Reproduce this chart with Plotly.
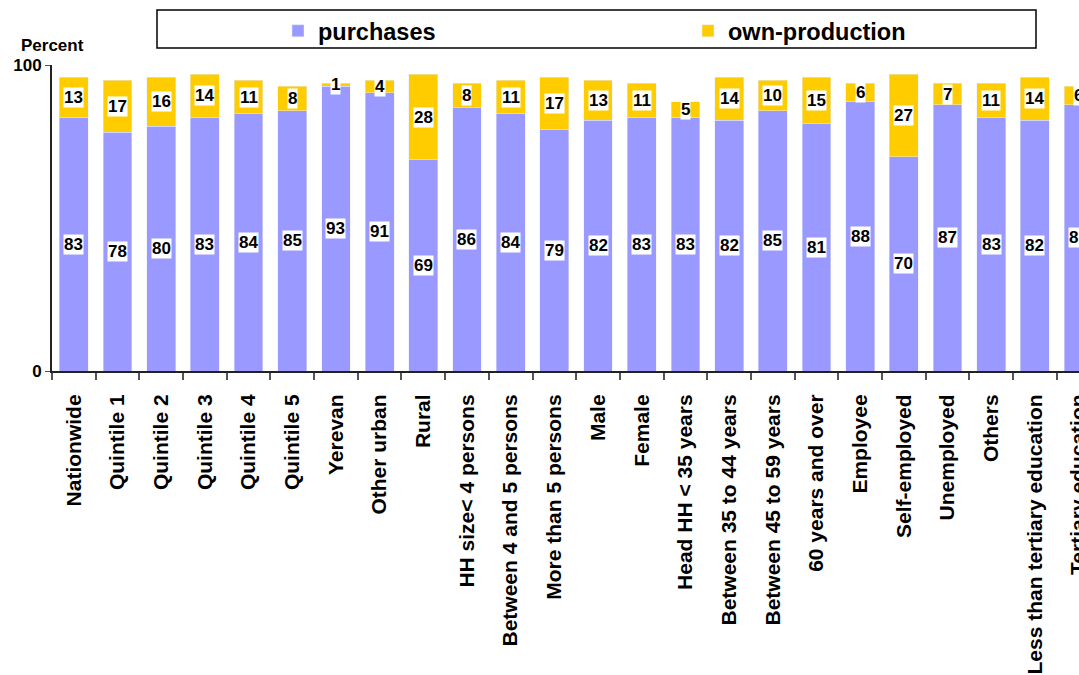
import plotly.graph_objects as go

categories = ["Nationwide", "Quintile 1", "Quintile 2", "Quintile 3", "Quintile 4", "Quintile 5",
              "Yerevan", "Other urban", "Rural", "HH size< 4 persons", "Between 4 and 5 persons",
              "More than 5 persons", "Male", "Female", "Head HH < 35 years", "Between 35 to 44 years",
              "Between 45 to 59 years", "60 years and over", "Employee", "Self-employed", "Unemployed",
              "Others", "Less than tertiary education", "Tertiary education"]
purchases = [83, 78, 80, 83, 84, 85, 93, 91, 69, 86, 84, 79, 82, 83, 83, 82, 85, 81, 88, 70, 87, 83, 82, 87]
own_production = [13, 17, 16, 14, 11, 8, 1, 4, 28, 8, 11, 17, 13, 11, 5, 14, 10, 15, 6, 27, 7, 11, 14, 6]
y_ticks = [0, 100]

W, H = 1079, 675
ML = 52
MT = 65
PLOT_RIGHT = 1079
PLOT_BOTTOM = 371
MR = W - PLOT_RIGHT
MB = H - PLOT_BOTTOM
PW = PLOT_RIGHT - ML
PH = PLOT_BOTTOM - MT
FAM = "Liberation Sans, Arial"

def px_x(p):
    return (p - ML) / PW

def px_y(p):
    return (PLOT_BOTTOM - p) / PH

fig = go.Figure()
fig.add_trace(go.Bar(x=categories, y=purchases, name="purchases", marker_color="#9999FF",
                     width=0.66, hoverinfo="skip"))
fig.add_trace(go.Bar(x=categories, y=own_production, name="own-production", marker_color="#FFCC00",
                     width=0.66, hoverinfo="skip"))

annotations = []
for c, p, o in zip(categories, purchases, own_production):
    annotations.append(dict(x=c, y=p / 2, xref="x", yref="y", text=f"<b>{p}</b>", showarrow=False,
                            font=dict(size=17, color="black", family=FAM),
                            bgcolor="white", borderpad=0))
    annotations.append(dict(x=c, y=p + o / 2, xref="x", yref="y", text=f"<b>{o}</b>", showarrow=False,
                            font=dict(size=17, color="black", family=FAM),
                            bgcolor="white", borderpad=0))
annotations.append(dict(x=px_x(19), y=px_y(45), xref="paper", yref="paper", xanchor="left", yanchor="middle",
                        text="<b>Percent</b>", showarrow=False,
                        font=dict(size=17, color="black", family=FAM)))

fig.update_layout(
    width=W, height=H,
    margin=dict(l=ML, r=MR, t=MT, b=MB, pad=0, autoexpand=False),
    barmode="stack",
    plot_bgcolor="white", paper_bgcolor="white",
    font=dict(family=FAM, color="black"),
    showlegend=True,
    legend=dict(orientation="h", x=px_x(278), xanchor="left", y=px_y(31), yanchor="middle",
                entrywidth=365, font=dict(size=23.5, color="black", family=FAM, weight="bold"),
                bgcolor="rgba(0,0,0,0)", borderwidth=0, traceorder="normal"),
    annotations=annotations,
    shapes=[dict(type="rect", xref="paper", yref="paper", x0=px_x(157), x1=px_x(1036),
                 y0=px_y(48), y1=px_y(10), line=dict(color="black", width=1.5))],
    xaxis=dict(type="category", range=[-0.5, 23.01], tickangle=-90, tickson="boundaries",
               ticks="outside", ticklen=7, tickcolor="#555", tickwidth=1.5, automargin=False,
               ticklabelstandoff=13,
               showline=True, linecolor="#222", linewidth=2, showgrid=False,
               tickfont=dict(size=21, color="black", family=FAM),
               ticktext=[f"<b>{c}</b>" for c in categories], tickvals=categories),
    yaxis=dict(range=[0, 100], tickvals=y_ticks, ticktext=[f"<b>{t}</b>" for t in y_ticks],
               ticks="outside", ticklen=5, tickcolor="#555", showline=True, linecolor="#222", linewidth=2,
               showgrid=True, gridcolor="#555", gridwidth=2, griddash="6px,3px", zeroline=False,
               automargin=False,
               tickfont=dict(size=17, color="black", family=FAM)),
)

# remove the default 8px page margin so the 1079x675 figure fills the window exactly
fig.write_html("out.html", config={"displayModeBar": False},
               post_script="document.body.style.margin='0';document.body.style.overflow='hidden';")
